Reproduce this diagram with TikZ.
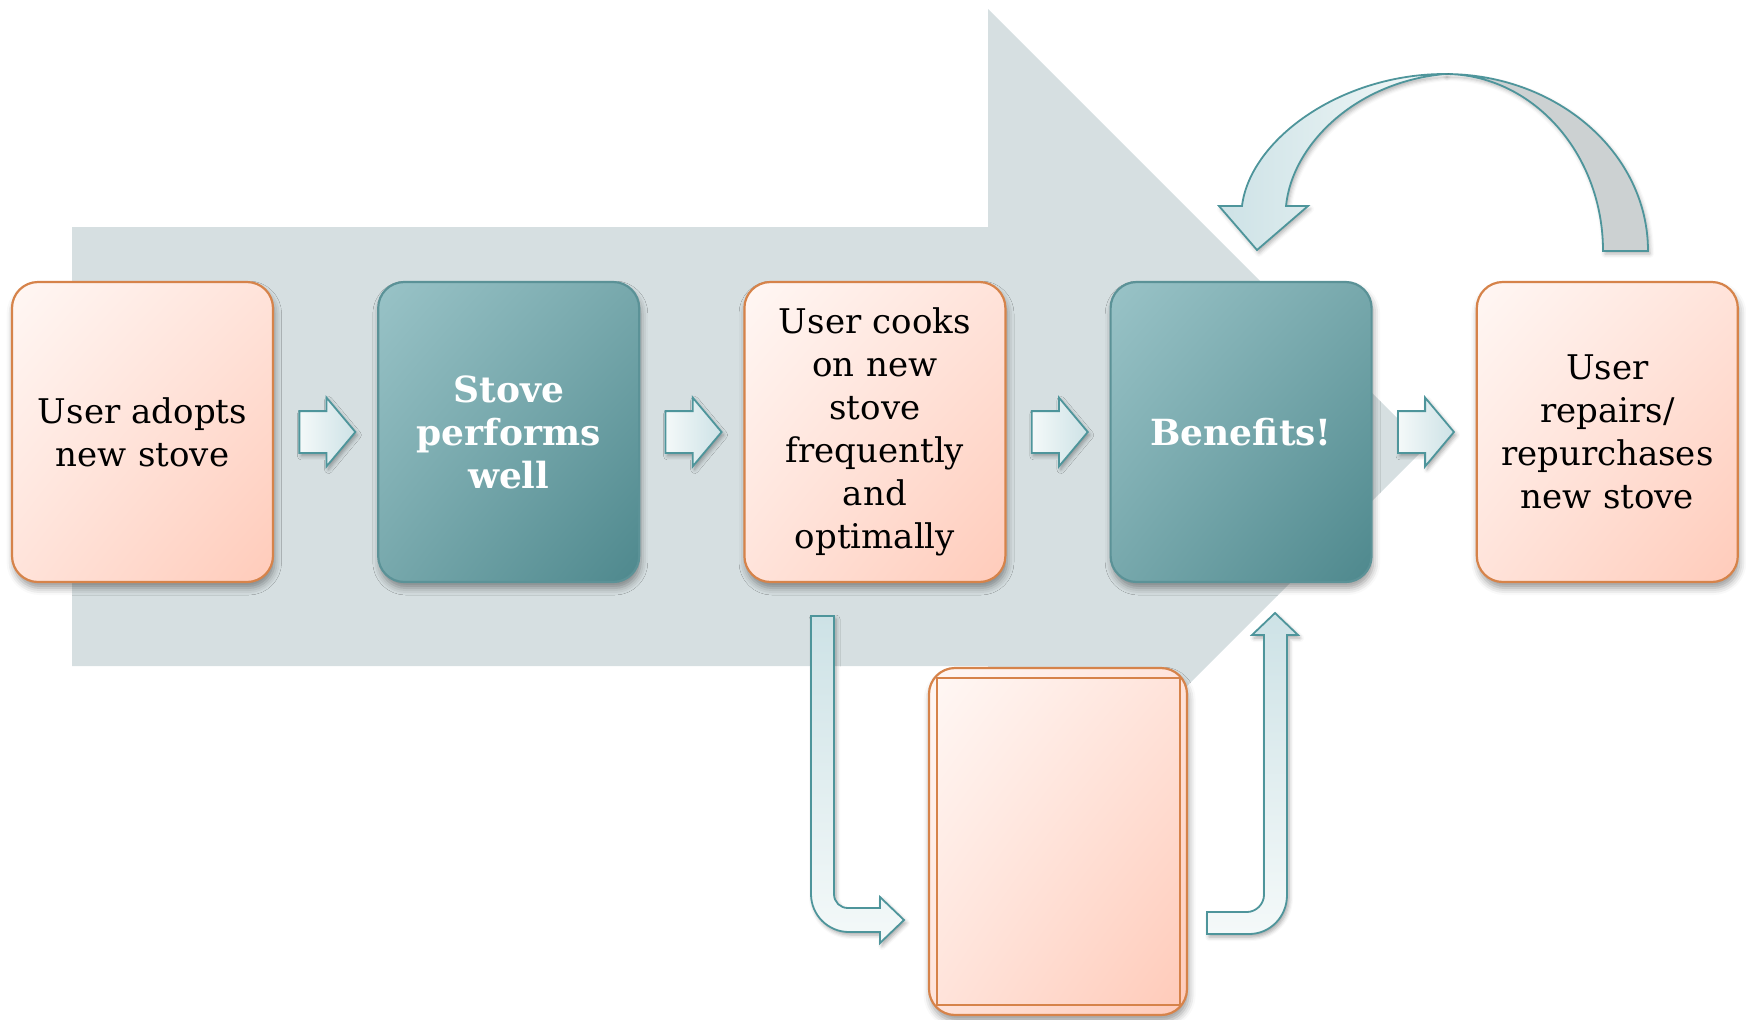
\documentclass[tikz,border=0pt]{standalone}
\usepackage{fontspec}
\setmainfont{DejaVu Serif}
\usetikzlibrary{positioning, calc, shapes.arrows, shadows.blur, shadings}

\definecolor{bandgray}{HTML}{D6DFE1}
\definecolor{warmA}{HTML}{FFF7F4}
\definecolor{warmB}{HTML}{FFE3DA}
\definecolor{warmC}{HTML}{FFCBBA}
\definecolor{warmedge}{HTML}{D6834A}
\definecolor{coolA}{HTML}{99C3C7}
\definecolor{coolB}{HTML}{77A8AC}
\definecolor{coolC}{HTML}{4E888D}
\definecolor{cooledge}{HTML}{5B9297}
\definecolor{arrowedge}{HTML}{4E959B}
\definecolor{arrowlight}{HTML}{F4F9F9}
\definecolor{arrowblue}{HTML}{CDE2E6}
\definecolor{ribbongray}{HTML}{CCD1D2}

\begin{document}
\begin{tikzpicture}[x=0.5pt,y=-0.5pt,
  softshadow/.style={blur shadow={shadow xshift=0.8pt, shadow yshift=-3pt, shadow blur radius=3.5pt, shadow opacity=40}},
  stage/.style={rounded corners=13pt, minimum width=130.5pt, minimum height=150pt, inner sep=2pt,
    align=center, text width=124pt, line width=1.1pt, font=\fontsize{17}{21.5}\selectfont, softshadow},
  warm/.style={stage, draw=warmedge, upper left=warmA, upper right=warmB, lower left=warmB, lower right=warmC},
  cool/.style={stage, draw=cooledge, upper left=coolA, upper right=coolB, lower left=coolB, lower right=coolC,
    text=white, font=\fontsize{18}{21.5}\selectfont\bfseries},
  stepper/.style={single arrow, single arrow head extend=6.75pt, single arrow tip angle=100, minimum height=28pt,
    inner xsep=0pt, inner ysep=10pt, draw=arrowedge, line width=0.9pt, left color=arrowlight, right color=arrowblue,
    xshift=-3.5pt, blur shadow={shadow xshift=1pt, shadow yshift=-1.5pt, shadow blur radius=2pt, shadow opacity=35}},
  frame/.style={draw=warmedge, line width=1pt, minimum width=121.5pt, minimum height=163.5pt, inner sep=0pt,
    upper left=warmA, upper right=warmB, lower left=warmB, lower right=warmC},
  elbow/.style={draw=arrowedge, line width=0.9pt, top color=arrowblue, bottom color=arrowlight,
    blur shadow={shadow xshift=1pt, shadow yshift=-1.5pt, shadow blur radius=2pt, shadow opacity=35}}
]
\useasboundingbox (0,0) rectangle (1746,1019);

% wide arrow behind the row
\fill[bandgray] (72,227) -- (988,227) -- (988,9) -- (1426,447) -- (988,885) -- (988,666) -- (72,666) -- cycle;

% stages of the row
\node[warm] (adopt) at (142.5,432) {User adopts\\new stove};
\node[cool, right=51.5pt of adopt] (performs) {Stove\\performs\\well};
\node[warm, right=51.5pt of performs] (cooks) {User cooks\\on new\\stove\\frequently\\and\\optimally};
\node[cool, right=51.5pt of cooks] (benefits) {Benefits!};
\node[warm, right=51.5pt of benefits] (repurchase) {User\\repairs/\\repurchases\\new stove};

\foreach \a/\b in {adopt/performs, performs/cooks, cooks/benefits, benefits/repurchase}
  \node[stepper] at ($(\a.east)!0.5!(\b.west)$) {};

% empty box below
\node[warm, minimum width=129pt, minimum height=173.5pt, text width=100pt] (lapse) at (1058,841.5) {};
\node[frame] (lapseframe) at (lapse.center) {};

% bent arrows into and out of the box
\path[elbow] (811,616) -- (834,616) -- (834,894) .. controls (834,902) and (840,908) .. (848,908)
  -- (880,908) -- (880,897) -- (904,920) -- (880,943) -- (880,932) -- (849,932)
  .. controls (828,932) and (811,915) .. (811,894) -- cycle;
\path[elbow] (1207,912) -- (1247,912) .. controls (1256,912) and (1264,904) .. (1264,895) -- (1264,635)
  -- (1252,635) -- (1275,613) -- (1298,635) -- (1287,635) -- (1287,895)
  .. controls (1287,917) and (1270,934) .. (1249,934) -- (1207,934) -- cycle;

% curved arrow back from the last stage
\path[draw=arrowedge, line width=0.9pt, fill=ribbongray,
  blur shadow={shadow xshift=1pt, shadow yshift=-1.5pt, shadow blur radius=2pt, shadow opacity=30}]
  (1648,251) -- (1603,251) .. controls (1603,153) and (1532,74) .. (1445,74)
  .. controls (1557,74) and (1648,153) .. (1648,251) -- cycle;
\path[draw=arrowedge, line width=0.9pt, left color=arrowblue, right color=arrowlight,
  blur shadow={shadow xshift=1pt, shadow yshift=-1.5pt, shadow blur radius=2pt, shadow opacity=30}]
  (1445,74) .. controls (1340,74) and (1250,140) .. (1242,206) -- (1219,206) -- (1257,250)
  -- (1308,206) -- (1286,206) .. controls (1292,145) and (1355,82) .. (1445,74) -- cycle;
\end{tikzpicture}
\end{document}
